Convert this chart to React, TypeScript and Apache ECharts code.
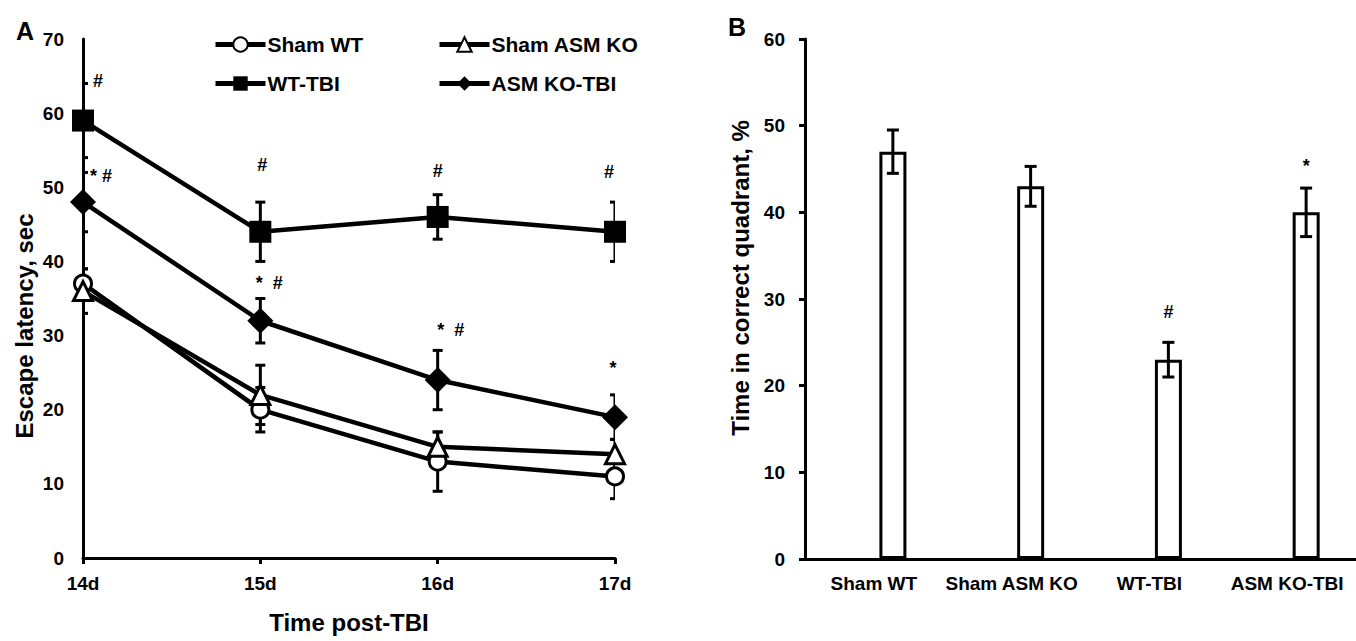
import React, { useEffect, useRef } from "react";
import * as echarts from "echarts";

const FONT = "'Liberation Sans', Arial, Helvetica, sans-serif";

// ---- Panel A data ----
const days = ["14d", "15d", "16d", "17d"];
const shamWT = [37, 20, 13, 11];
const shamWTErr = [2, 3, 4, 3];
const shamKO = [36, 22, 15, 14];
const shamKOErr = [3, 4, 2, 2];
const wtTBI = [59, 44, 46, 44];
const wtTBIErr = [5, 4, 3, 4];
const koTBI = [48, 32, 24, 19];
const koTBIErr = [4, 3, 4, 3];
const seriesNames = ["Sham WT", "Sham ASM KO", "WT-TBI", "ASM KO-TBI"];
// significance marks: [day index, y value, text]
const marksA: [number, number, string][] = [
  [0, 64.3, "#"],
  [0, 51.5, "* #"],
  [1, 53, "#"],
  [1, 37.1, "*  #"],
  [2, 52.2, "#"],
  [2, 30.8, "*  #"],
  [3, 52, "#"],
  [3, 25.6, "*"],
];
const marksAOffset = [15, 18, 2, 9, 0, 13, -6, -2];

// ---- Panel B data ----
const groups = ["Sham WT", "Sham ASM KO", "WT-TBI", "ASM KO-TBI"];
const quadrant = [47, 43, 23, 40];
const quadrantErr = [2.5, 2.3, 2, 2.8];
const marksB: [number, number, string][] = [
  [2, 28.5, "#"],
  [3, 45.4, "*"],
];

const BAR_SHIFT = 19;

function errData(vals: number[], errs: number[]) {
  return vals.map((v, i) => [i, v - errs[i], v + errs[i]]);
}

function errRender(capW: number, dx: number) {
  return (params: any, api: any) => {
    const i = api.value(0);
    const lo = api.coord([i, api.value(1)]);
    const hi = api.coord([i, api.value(2)]);
    const x = lo[0] + dx;
    const st = { stroke: "#000", lineWidth: 3 };
    return {
      type: "group",
      children: [
        { type: "line", shape: { x1: x, y1: lo[1], x2: x, y2: hi[1] }, style: st },
        { type: "line", shape: { x1: x - capW / 2, y1: lo[1], x2: x + capW / 2, y2: lo[1] }, style: st },
        { type: "line", shape: { x1: x - capW / 2, y1: hi[1], x2: x + capW / 2, y2: hi[1] }, style: st },
      ],
    };
  };
}

function markRender(marks: [number, number, string][], offsets: (i: number) => number) {
  return (params: any, api: any) => {
    const p = api.coord([api.value(0), api.value(1)]);
    return {
      type: "text",
      x: p[0] + offsets(params.dataIndex),
      y: p[1],
      style: {
        text: marks[params.dataIndex][2],
        fill: "#000",
        fontSize: 18,
        fontWeight: "bold",
        fontFamily: FONT,
        align: "center",
        verticalAlign: "middle",
      },
    };
  };
}

export default function App() {
  const ref = useRef<HTMLDivElement>(null);
  useEffect(() => {
    if (!ref.current) return;
    const chart = echarts.init(ref.current, null, { renderer: "svg" });
    const axisLine = { show: true, lineStyle: { color: "#000", width: 3 } };
    const lbl = (size: number, margin: number) => ({
      color: "#000",
      fontSize: size,
      fontWeight: "bold",
      fontFamily: FONT,
      margin,
    });
    const lineSeries = (
      name: string,
      data: number[],
      symbol: string,
      size: number | number[],
      filled: boolean
    ) => ({
      name,
      type: "line",
      xAxisIndex: 0,
      yAxisIndex: 0,
      data,
      symbol,
      symbolSize: size,
      z: 3,
      lineStyle: { color: "#000", width: 4.5 },
      itemStyle: filled
        ? { color: "#000", borderColor: "#000", borderWidth: 0 }
        : { color: "#fff", borderColor: "#000", borderWidth: 3 },
    });
    const errSeries = (vals: number[], errs: number[]) => ({
      type: "custom",
      xAxisIndex: 0,
      yAxisIndex: 0,
      data: errData(vals, errs),
      encode: { x: 0, y: [1, 2] },
      renderItem: errRender(10, 0),
      clip: true,
      z: 2,
      silent: true,
    });
    const legendItem = (name: string, left: number, top: number) => ({
      data: [name],
      left,
      top,
      padding: 0,
      itemWidth: 50,
      itemHeight: 18,
      selectedMode: false,
      lineStyle: { width: 5, color: "#000" },
      textStyle: { color: "#000", fontSize: 21, fontWeight: "bold", fontFamily: FONT, padding: [0, 0, 0, -3] },
    });
    const option: any = {
      animation: false,
      textStyle: { fontFamily: FONT },
      grid: [
        { left: 83, top: 39, width: 532, height: 519 },
        { left: 805, top: 39, width: 551, height: 520 },
      ],
      xAxis: [
        {
          gridIndex: 0,
          type: "category",
          data: days,
          boundaryGap: false,
          axisLine,
          axisTick: { show: true, length: 6, lineStyle: { color: "#000", width: 3 } },
          axisLabel: lbl(19, 16),
          splitLine: { show: false },
          name: "Time post-TBI",
          nameLocation: "middle",
          nameGap: 52,
          nameTextStyle: { color: "#000", fontSize: 24, fontWeight: "bold", fontFamily: FONT },
        },
        {
          gridIndex: 1,
          type: "category",
          data: groups,
          axisLine,
          axisTick: { show: false },
          axisLabel: { ...lbl(19, 15), interval: 0 },
          splitLine: { show: false },
        },
      ],
      yAxis: [
        {
          gridIndex: 0,
          type: "value",
          min: 0,
          max: 70,
          interval: 10,
          axisLine,
          axisTick: { show: false },
          axisLabel: lbl(19, 19),
          splitLine: { show: false },
        },
        {
          gridIndex: 1,
          type: "value",
          min: 0,
          max: 60,
          interval: 10,
          axisLine,
          axisTick: { show: true, length: 6, lineStyle: { color: "#000", width: 3 } },
          axisLabel: lbl(19, 20),
          splitLine: { show: false },
        },
      ],
      legend: [
        legendItem(seriesNames[0], 213, 34),
        legendItem(seriesNames[1], 437, 34),
        legendItem(seriesNames[2], 213, 73),
        legendItem(seriesNames[3], 437, 73),
      ],
      graphic: [
        {
          type: "text",
          x: 25,
          y: 31,
          style: { text: "A", fill: "#000", fontSize: 25, fontWeight: "bold", fontFamily: FONT, align: "center", verticalAlign: "middle" },
        },
        {
          type: "text",
          x: 737,
          y: 27,
          style: { text: "B", fill: "#000", fontSize: 25, fontWeight: "bold", fontFamily: FONT, align: "center", verticalAlign: "middle" },
        },
        {
          type: "text",
          x: 24,
          y: 326,
          rotation: Math.PI / 2,
          style: { text: "Escape latency, sec", fill: "#000", fontSize: 24, fontWeight: "bold", fontFamily: FONT, align: "center", verticalAlign: "middle" },
        },
        {
          type: "text",
          x: 740,
          y: 278,
          rotation: Math.PI / 2,
          style: { text: "Time in correct quadrant, %", fill: "#000", fontSize: 24, fontWeight: "bold", fontFamily: FONT, align: "center", verticalAlign: "middle" },
        },
      ],
      series: [
        errSeries(shamWT, shamWTErr),
        errSeries(shamKO, shamKOErr),
        errSeries(wtTBI, wtTBIErr),
        errSeries(koTBI, koTBIErr),
        lineSeries(seriesNames[0], shamWT, "circle", 17, false),
        lineSeries(seriesNames[1], shamKO, "triangle", 19, false),
        lineSeries(seriesNames[2], wtTBI, "rect", 22, true),
        lineSeries(seriesNames[3], koTBI, "diamond", 26, true),
        {
          type: "custom",
          xAxisIndex: 0,
          yAxisIndex: 0,
          data: marksA.map((m) => [m[0], m[1]]),
          encode: { x: 0, y: 1 },
          renderItem: markRender(marksA, (i) => marksAOffset[i]),
          clip: false,
          silent: true,
          z: 4,
        },
        // Panel B
        {
          type: "bar",
          xAxisIndex: 1,
          yAxisIndex: 1,
          data: groups.map(() => "-"),
          barWidth: 27,
          barGap: "41%",
        },
        {
          type: "bar",
          xAxisIndex: 1,
          yAxisIndex: 1,
          data: quadrant,
          barWidth: 27,
          barGap: "41%",
          itemStyle: { color: "#fff", borderColor: "#000", borderWidth: 3 },
          z: 2,
        },
        {
          type: "custom",
          xAxisIndex: 1,
          yAxisIndex: 1,
          data: errData(quadrant, quadrantErr),
          encode: { x: 0, y: [1, 2] },
          renderItem: errRender(12, BAR_SHIFT),
          silent: true,
          z: 3,
        },
        {
          type: "custom",
          xAxisIndex: 1,
          yAxisIndex: 1,
          data: marksB.map((m) => [m[0], m[1]]),
          encode: { x: 0, y: 1 },
          renderItem: markRender(marksB, () => BAR_SHIFT),
          silent: true,
          z: 4,
        },
      ],
    };
    chart.setOption(option);
    return () => chart.dispose();
  }, []);
  return (
    <div
      ref={ref}
      style={{ position: "fixed", left: 0, top: 0, width: 1356, height: 641, background: "#fff" }}
    />
  );
}
